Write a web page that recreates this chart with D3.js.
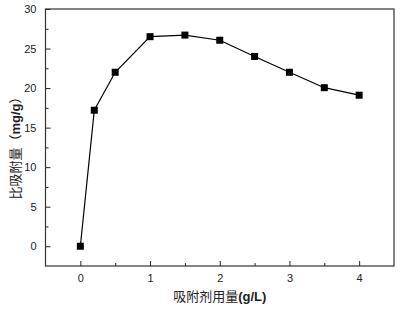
<!DOCTYPE html>
<html>
<head>
<meta charset="utf-8">
<script src="https://cdn.jsdelivr.net/npm/d3@7"></script>
<style>
  body { margin: 0; background: #fff; }
  text { font-family: Arial, "Liberation Sans", sans-serif; }
</style>
</head>
<body>
<script>
var w = 406;
var h = 312;

// dosage (g/L) and specific adsorption (mg/g)
var dosage = [0, 0.2, 0.5, 1, 1.5, 2, 2.5, 3, 3.5, 4];
var capacity = [0, 17.2, 22.0, 26.5, 26.7, 26.05, 24.0, 22.0, 20.05, 19.1];
var xTicks = [0, 1, 2, 3, 4];
var yTicks = [0, 5, 10, 15, 20, 25, 30];

var plotLeft = 45.5, plotRight = 394, plotTop = 9, plotBottom = 266;

var xScale = d3.scaleLinear().domain([-0.5, 4.5]).range([plotLeft, plotRight]);
var yScale = d3.scaleLinear().domain([-2.5, 30]).range([plotBottom, plotTop]);

var svg = d3.select("body").append("svg")
  .attr("width", w)
  .attr("height", h);

// minor ticks
var xMinor = d3.axisBottom(xScale).tickValues([0.5, 1.5, 2.5, 3.5]).tickSize(-3).tickFormat("");
var yMinor = d3.axisLeft(yScale).tickValues([2.5, 7.5, 12.5, 17.5, 22.5, 27.5]).tickSize(-3).tickFormat("");

svg.append("g").attr("transform", "translate(0," + plotBottom + ")").call(xMinor);
svg.append("g").attr("transform", "translate(" + plotLeft + ",0)").call(yMinor);

// major axes
var xAxis = d3.axisBottom(xScale).tickValues(xTicks).tickSize(-5).tickPadding(8).tickFormat(d3.format("d"));
var yAxis = d3.axisLeft(yScale).tickValues(yTicks).tickSize(-5).tickPadding(9).tickFormat(d3.format("d"));

svg.append("g").attr("transform", "translate(0," + plotBottom + ")").call(xAxis);
svg.append("g").attr("transform", "translate(" + plotLeft + ",0)").call(yAxis);

svg.selectAll(".domain").remove();
svg.selectAll(".tick line").attr("stroke", "#222");
svg.selectAll(".tick text").attr("font-size", 11).attr("fill", "#222");

// frame
svg.append("rect")
  .attr("x", plotLeft).attr("y", plotTop)
  .attr("width", plotRight - plotLeft).attr("height", plotBottom - plotTop)
  .attr("fill", "none").attr("stroke", "#333").attr("stroke-width", 1.2);

// line
var line = d3.line()
  .x(function(d, i) { return xScale(dosage[i]); })
  .y(function(d) { return yScale(d); });

svg.append("path")
  .datum(capacity)
  .attr("d", line)
  .attr("fill", "none")
  .attr("stroke", "#000")
  .attr("stroke-width", 1.2);

// square markers
svg.selectAll("rect.pt")
  .data(capacity)
  .enter()
  .append("rect")
  .attr("class", "pt")
  .attr("x", function(d, i) { return xScale(dosage[i]) - 3.5; })
  .attr("y", function(d) { return yScale(d) - 3.5; })
  .attr("width", 7)
  .attr("height", 7)
  .attr("fill", "#000");

// x label
var xl = svg.append("text")
  .attr("x", (plotLeft + plotRight) / 2)
  .attr("y", 301)
  .attr("text-anchor", "middle")
  .attr("font-size", 13)
  .attr("fill", "#222");
xl.append("tspan").attr("font-family", "'Noto Sans CJK SC'").text("吸附剂用量");
xl.append("tspan").attr("font-weight", "bold").text("(g/L)");

// y label
var yl = svg.append("text")
  .attr("transform", "translate(20," + 145 + ") rotate(-90)")
  .attr("text-anchor", "middle")
  .attr("font-size", 13)
  .attr("fill", "#222");
yl.append("tspan").attr("font-family", "'Noto Sans CJK SC'").text("比吸附量（");
yl.append("tspan").attr("font-weight", "bold").text("mg/g");
yl.append("tspan").attr("font-family", "'Noto Sans CJK SC'").text("）");
</script>
</body>
</html>
